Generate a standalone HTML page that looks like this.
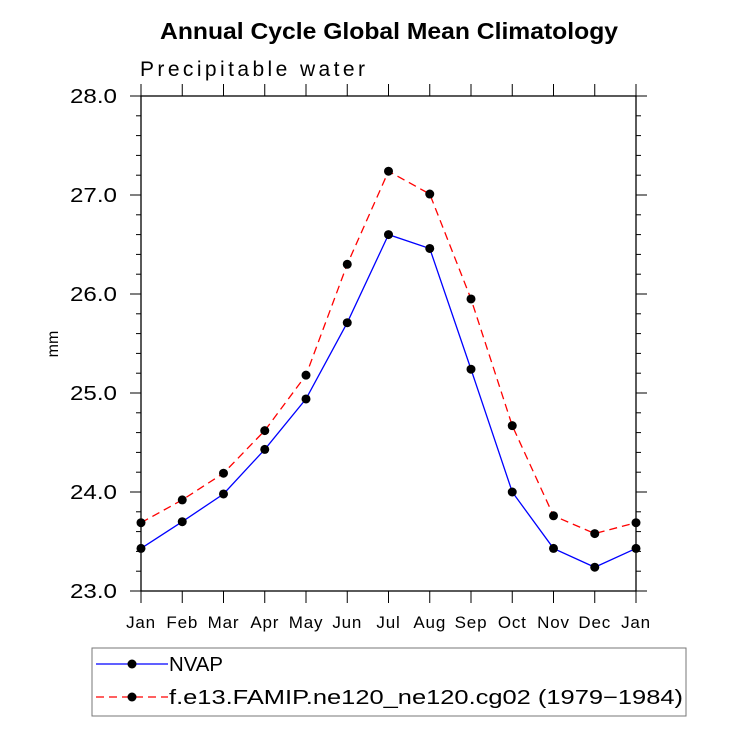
<!DOCTYPE html>
<html><head><meta charset="utf-8"><style>
body{margin:0;background:#fff}
svg text{font-family:"Liberation Sans",sans-serif;fill:#000}
</style></head><body>
<svg id="chart" width="733" height="734" viewBox="0 0 733 734" xmlns="http://www.w3.org/2000/svg">
<text x="160" y="39" font-size="23" font-weight="bold" textLength="458" lengthAdjust="spacingAndGlyphs">Annual Cycle Global Mean Climatology</text>
<text x="140" y="76" font-size="21" textLength="225" lengthAdjust="spacing">Precipitable water</text>
<text transform="translate(58,344) rotate(-90)" text-anchor="middle" font-size="16">mm</text>
<g id="axes"></g>
<g id="series"></g>
<g>
<rect x="92" y="648" width="594" height="68" fill="none" stroke="#777" stroke-width="1"/>
<line x1="96" y1="664" x2="168" y2="664" stroke="#00f" stroke-width="1.3"/>
<circle cx="132" cy="664" r="4.5"/>
<text x="169" y="671" font-size="20" textLength="54" lengthAdjust="spacingAndGlyphs">NVAP</text>
<line x1="96" y1="697" x2="168" y2="697" stroke="#f00" stroke-width="1.3" stroke-dasharray="8,5"/>
<circle cx="132" cy="697" r="4.5"/>
<text x="169" y="704" font-size="20" textLength="514" lengthAdjust="spacingAndGlyphs">f.e13.FAMIP.ne120_ne120.cg02 (1979−1984)</text>
</g>
</svg>
<script>
const months=["Jan","Feb","Mar","Apr","May","Jun","Jul","Aug","Sep","Oct","Nov","Dec","Jan"];
const nvap=[23.43,23.70,23.98,24.43,24.94,25.71,26.60,26.46,25.24,24.00,23.43,23.24,23.43];
const model=[23.69,23.92,24.19,24.62,25.18,26.30,27.24,27.01,25.95,24.67,23.76,23.58,23.69];
const yTicks=["23.0","24.0","25.0","26.0","27.0","28.0"];
const NS="http://www.w3.org/2000/svg";
const L=141,R=636,T=96,B=591,yMin=23,yMax=28;
function xs(i){return L+(R-L)*i/(months.length-1);}
function ys(v){return B-(v-yMin)/(yMax-yMin)*(B-T);}
function mk(tag,attrs,parent){const e=document.createElementNS(NS,tag);for(const k in attrs)e.setAttribute(k,attrs[k]);parent.appendChild(e);return e;}
const ax=document.getElementById('axes');
const frame=mk('rect',{x:L,y:T,width:R-L,height:B-T,fill:'none',stroke:'#000','stroke-width':1.3},ax);


for(let v=yMin;v<=yMax+1e-9;v+=0.2){
  const y=ys(v);const major=Math.abs(v-Math.round(v))<1e-6;const len=major?11:5;
  mk('line',{x1:L-len,y1:y,x2:L,y2:y,stroke:'#000','stroke-width':1},ax);
  mk('line',{x1:R,y1:y,x2:R+len,y2:y,stroke:'#000','stroke-width':1},ax);
}
yTicks.forEach(t=>{const e=mk('text',{x:70,y:ys(parseFloat(t))+7,'font-size':20,textLength:47,lengthAdjust:'spacingAndGlyphs'},ax);e.textContent=t;

});
months.forEach((m,i)=>{const x=xs(i);
  mk('line',{x1:x,y1:B,x2:x,y2:B+12,stroke:'#000','stroke-width':1},ax);
  mk('line',{x1:x,y1:T,x2:x,y2:T-12,stroke:'#000','stroke-width':1},ax);
  const e=mk('text',{x:x,y:628,'text-anchor':'middle','font-size':17,'letter-spacing':'0.8'},ax);e.textContent=m;
  
  
});
const sg=document.getElementById('series');
function draw(vals,color,dash,name){
  const pts=vals.map((v,i)=>xs(i)+','+ys(v)).join(' ');
  const pl=mk('polyline',{points:pts,fill:'none',stroke:color,'stroke-width':1.3,'stroke-dasharray':dash},sg);
  
  
  vals.forEach((v,i)=>{const c=mk('circle',{cx:xs(i),cy:ys(v),r:4.5,fill:'#000'},sg);
    
    });
}
draw(nvap,'#00f','none','nvap');
draw(model,'#f00','8,5','model');
</script>
</body></html>
